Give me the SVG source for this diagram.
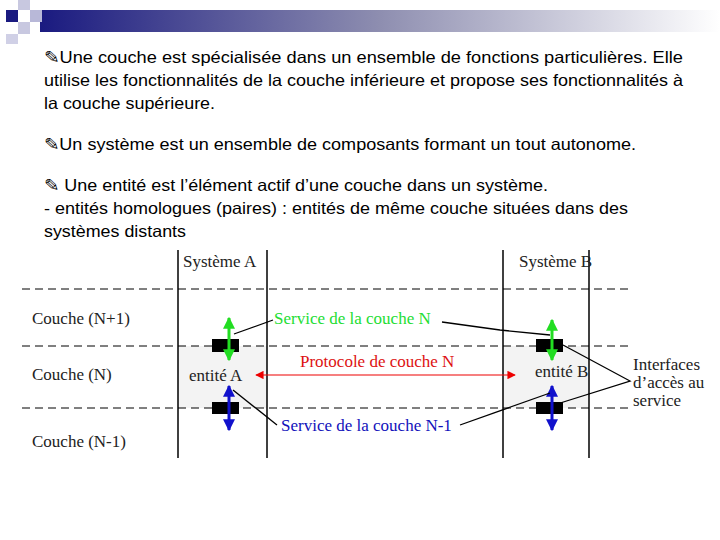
<svg xmlns="http://www.w3.org/2000/svg" width="720" height="540" viewBox="0 0 720 540">
<defs>
<linearGradient id="g" x1="0" x2="1"><stop offset="0" stop-color="#1a1a80"/><stop offset="0.5" stop-color="#8e8eb0"/><stop offset="1" stop-color="#fff"/></linearGradient>
<marker id="ar" viewBox="0 0 10 10" refX="9" refY="5" markerWidth="8" markerHeight="7" orient="auto-start-reverse"><path d="M0,0L10,5L0,10z" fill="#e00"/></marker>
<marker id="ag" viewBox="0 0 10 10" refX="9" refY="5" markerWidth="4" markerHeight="4" orient="auto-start-reverse"><path d="M0,0L10,5L0,10z" fill="#2d2"/></marker>
<marker id="ab" viewBox="0 0 10 10" refX="9" refY="5" markerWidth="4" markerHeight="4" orient="auto-start-reverse"><path d="M0,0L10,5L0,10z" fill="#11c"/></marker>
</defs>
<style>
.t{font-family:"Liberation Sans",Arial,sans-serif;font-size:16.5px;fill:#000}
.s{font-family:"Liberation Serif","Times New Roman",serif;font-size:17px;fill:#222}
.d{stroke:#000;stroke-dasharray:8,5;fill:none}
.v{stroke:#000;stroke-width:1.5}
.l{stroke:#000;stroke-width:1.3;fill:none}
</style>
<rect width="720" height="540" fill="#fff"/>
<rect x="40" y="10" width="680" height="22" fill="url(#g)"/>
<rect x="6" y="10" width="12" height="12" fill="#1a1a80"/>
<rect x="18" y="0" width="12" height="10" fill="#c8c8e0"/>
<rect x="30" y="10" width="12" height="12" fill="#b8b8d8"/>
<rect x="18" y="22" width="12" height="12" fill="#c8c8e0"/>
<rect x="6" y="34" width="12" height="10" fill="#d0d0e6"/>
<text class="t" x="44" y="63" textLength="639" lengthAdjust="spacingAndGlyphs">✎Une couche est spécialisée dans un ensemble de fonctions particulières. Elle</text>
<text class="t" x="44" y="86" textLength="639" lengthAdjust="spacingAndGlyphs">utilise les fonctionnalités de la couche inférieure et propose ses fonctionnalités à</text>
<text class="t" x="44" y="109" textLength="171" lengthAdjust="spacingAndGlyphs">la couche supérieure.</text>
<text class="t" x="44" y="150" textLength="592" lengthAdjust="spacingAndGlyphs">✎Un système est un ensemble de composants formant un tout autonome.</text>
<text class="t" x="44" y="191" textLength="504" lengthAdjust="spacingAndGlyphs">✎ Une entité est l’élément actif d’une couche dans un système.</text>
<text class="t" x="44" y="214" textLength="584" lengthAdjust="spacingAndGlyphs">- entités homologues (paires) : entités de même couche situées dans des</text>
<text class="t" x="44" y="237" textLength="142" lengthAdjust="spacingAndGlyphs">systèmes distants</text>
<g id="bg"><rect x="178" y="346" width="89" height="62" fill="#f3f3f3"/><rect x="503" y="346" width="86" height="62" fill="#f3f3f3"/></g>
<g id="grid">
<line class="d" x1="22" y1="289" x2="628" y2="289"/>
<line class="d" x1="22" y1="346" x2="628" y2="346"/>
<line class="d" x1="22" y1="408" x2="628" y2="408"/>
<line class="v" x1="178" y1="250" x2="178" y2="458"/>
<line class="v" x1="267" y1="250" x2="267" y2="458"/>
<line class="v" x1="503" y1="250" x2="503" y2="458"/>
<line class="v" x1="589" y1="250" x2="589" y2="458"/>
</g>
<g id="labels">
<text class="s" x="183" y="267">Système A</text>
<text class="s" x="519" y="267">Système B</text>
<text class="s" x="32" y="324">Couche (N+1)</text>
<text class="s" x="32" y="380">Couche (N)</text>
<text class="s" x="32" y="447">Couche (N-1)</text>
<text class="s" x="189" y="381">entité A</text>
<text class="s" x="535" y="377">entité B</text>
<text class="s" x="633" y="370">Interfaces</text>
<text class="s" x="633" y="388">d’accès au</text>
<text class="s" x="633" y="406">service</text>
<text class="s" x="274" y="324" style="fill:#22dd33">Service de la couche N</text>
<text class="s" x="300" y="367" style="fill:#dd1111">Protocole de couche N</text>
<text class="s" x="281" y="431" style="fill:#1111bb">Service de la couche N-1</text>
</g>
<g id="interfaces">
<rect x="212" y="339" width="27" height="13"/><rect x="212" y="402" width="27" height="12"/>
<rect x="536" y="339" width="27" height="13"/><rect x="536" y="402" width="27" height="12"/>
</g>
<g id="connectors">
<line x1="229" y1="318" x2="229" y2="360" stroke="#2d2" stroke-width="3" marker-start="url(#ag)" marker-end="url(#ag)"/>
<line x1="552" y1="320" x2="552" y2="360" stroke="#2d2" stroke-width="3" marker-start="url(#ag)" marker-end="url(#ag)"/>
<line x1="229" y1="386" x2="229" y2="430" stroke="#11c" stroke-width="3" marker-start="url(#ab)" marker-end="url(#ab)"/>
<line x1="552" y1="386" x2="552" y2="430" stroke="#11c" stroke-width="3" marker-start="url(#ab)" marker-end="url(#ab)"/>
<line x1="256" y1="375" x2="515" y2="375" stroke="#e00" stroke-width="1.2" marker-start="url(#ar)" marker-end="url(#ar)"/>
<path class="l" d="M234,334L273,320"/>
<path class="l" d="M442,322L500,330L550,335"/>
<path class="l" d="M233,390L277,425"/>
<path class="l" d="M460,425L550,393"/>
<path class="l" d="M563,345L630,381L557,404"/>
</g>
</svg>
